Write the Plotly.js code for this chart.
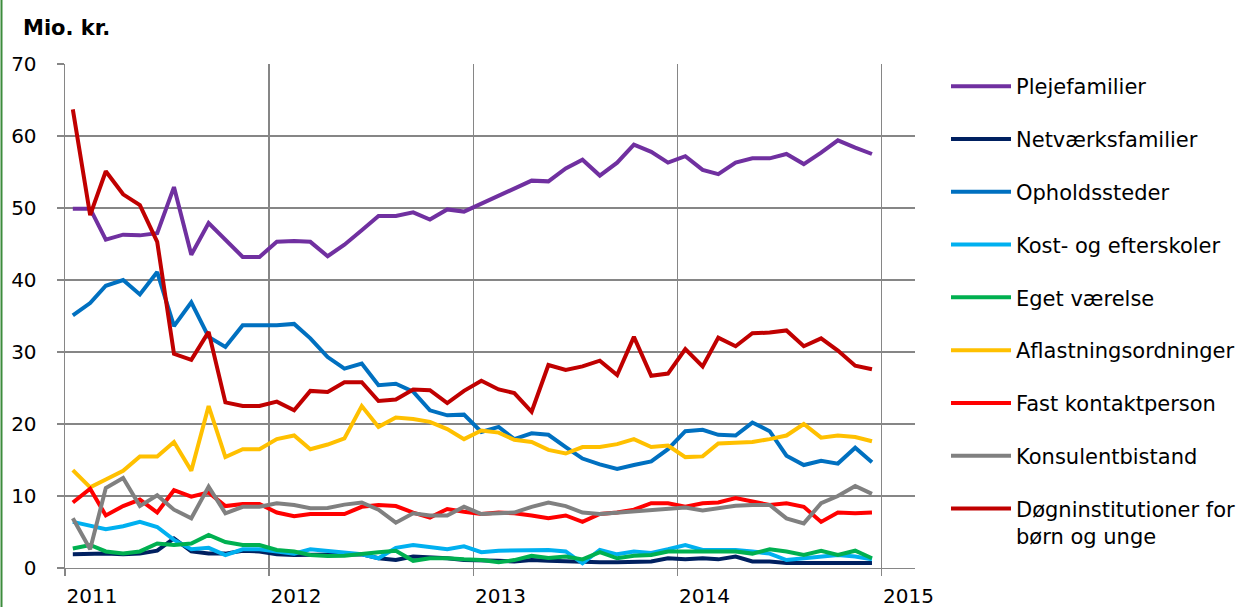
<!DOCTYPE html>
<html>
<head>
<meta charset="utf-8">
<script src="https://cdn.plot.ly/plotly-3.0.1.min.js"></script>
<style>html,body{margin:0;padding:0;background:#fff;}#chart{width:1242px;height:607px;}</style>
</head>
<body>
<div id="chart"></div>
<script>
// Months Jan 2011 – Dec 2014 (mid-month)
const years = [2011, 2012, 2013, 2014];
const monthNums = ['01','02','03','04','05','06','07','08','09','10','11','12'];
const months = [];
years.forEach(y => monthNums.forEach(m => months.push(y + '-' + m + '-15')));

const seriesNames = [
  'Plejefamilier', 'Netværksfamilier', 'Opholdssteder', 'Kost- og efterskoler',
  'Eget værelse', 'Aflastningsordninger', 'Fast kontaktperson', 'Konsulentbistand',
  'Døgninstitutioner for<br>børn og unge'
];
const seriesColors = ['#7030A0','#002060','#0070C0','#00B0F0','#00B050','#FFC000','#FF0000','#808080','#C00000'];

const plejefamilier = [49.9,49.9,45.6,46.3,46.2,46.5,52.9,43.5,47.9,45.6,43.2,43.2,
  45.3,45.4,45.3,43.3,44.9,46.9,48.9,48.9,49.4,48.4,49.8,49.5,
  50.6,51.6,52.6,53.8,53.7,55.5,56.7,54.5,56.3,58.8,57.8,56.3,
  57.2,55.3,54.7,56.3,56.9,56.9,57.5,56.1,57.7,59.4,58.4,57.5];
const netvaerksfamilier = [1.9,2.0,2.0,1.9,2.0,2.4,4.1,2.3,2.0,2.0,2.4,2.3,
  1.9,1.8,1.8,1.8,1.9,1.9,1.35,1.1,1.6,1.5,1.35,1.1,
  1.1,1.0,0.9,1.1,1.0,0.9,0.8,0.8,0.8,0.9,0.9,1.35,
  1.2,1.35,1.2,1.6,0.9,0.9,0.7,0.7,0.7,0.7,0.7,0.7];
const opholdssteder = [35.1,36.8,39.2,40.0,38.0,41.1,33.6,36.9,32.1,30.7,33.7,33.7,
  33.7,33.9,31.9,29.3,27.7,28.4,25.4,25.6,24.5,21.9,21.2,21.3,
  18.9,19.6,17.9,18.7,18.5,16.8,15.2,14.4,13.75,14.3,14.8,16.5,
  19.0,19.2,18.5,18.4,20.2,19.0,15.6,14.3,14.9,14.5,16.7,14.7];
const kostEfterskoler = [6.4,5.8,5.4,5.8,6.4,5.7,3.9,2.6,2.8,1.8,2.6,2.6,
  2.3,2.0,2.6,2.35,2.1,1.9,1.35,2.8,3.2,2.9,2.6,3.0,
  2.2,2.4,2.4,2.4,2.5,2.3,0.65,2.5,1.9,2.3,2.1,2.6,
  3.2,2.5,2.5,2.5,2.3,2.0,1.1,1.35,1.6,1.8,1.6,1.2];
const egetVaerelse = [2.7,3.2,2.3,2.0,2.3,3.4,3.2,3.4,4.6,3.6,3.2,3.2,
  2.5,2.3,1.8,1.65,1.7,2.0,2.2,2.4,1.0,1.35,1.35,1.2,
  1.1,0.8,1.1,1.7,1.4,1.6,1.2,2.2,1.35,1.7,1.8,2.3,
  2.3,2.3,2.2,2.3,2.0,2.6,2.3,1.8,2.4,1.8,2.4,1.35];
const aflastning = [13.6,11.2,12.3,13.5,15.5,15.5,17.5,13.5,22.5,15.4,16.5,16.5,
  17.9,18.4,16.5,17.15,18.0,22.5,19.6,20.9,20.7,20.3,19.3,17.9,
  19.1,18.8,17.8,17.5,16.4,15.9,16.8,16.8,17.2,17.9,16.8,17.0,
  15.4,15.5,17.3,17.4,17.5,17.9,18.4,20.0,18.1,18.4,18.2,17.6];
const fastKontakt = [9.1,11.0,7.3,8.6,9.5,7.7,10.8,9.9,10.5,8.6,8.9,8.9,
  7.7,7.2,7.5,7.5,7.5,8.5,8.75,8.6,7.7,7.0,8.2,7.8,
  7.5,7.7,7.6,7.3,6.9,7.3,6.4,7.5,7.7,8.1,9.0,9.0,
  8.5,9.0,9.1,9.7,9.2,8.75,9.0,8.5,6.4,7.7,7.6,7.7];
const konsulent = [6.9,2.6,11.1,12.5,8.6,10.1,8.1,6.9,11.3,7.6,8.5,8.5,
  9.0,8.75,8.3,8.35,8.8,9.1,8.1,6.3,7.6,7.3,7.3,8.5,
  7.5,7.6,7.7,8.5,9.1,8.6,7.7,7.5,7.7,7.8,8.1,8.2,
  8.4,8.0,8.3,8.65,8.75,8.75,6.9,6.2,9.0,10.0,11.4,10.3];
const doegninst = [63.7,49.0,55.1,51.9,50.4,45.3,29.75,28.9,32.8,23.0,22.5,22.5,
  23.1,21.9,24.6,24.45,25.8,25.8,23.2,23.4,24.8,24.7,22.9,24.6,
  26.0,24.8,24.3,21.7,28.2,27.5,28.0,28.8,26.8,32.1,26.7,27.0,
  30.4,28.0,32.0,30.8,32.6,32.7,33.0,30.8,31.9,30.2,28.1,27.6];

const seriesValues = [plejefamilier, netvaerksfamilier, opholdssteder, kostEfterskoler,
  egetVaerelse, aflastning, fastKontakt, konsulent, doegninst];

const traces = seriesNames.map((name, i) => ({
  type: 'scatter',
  mode: 'lines',
  name: name,
  x: months,
  y: seriesValues[i],
  line: {color: seriesColors[i], width: 4, shape: 'linear'},
  legendgroup: 'g' + i,
  hoverinfo: 'x+y+name'
}));

const gridColor = '#868686';
const layout = {
  width: 1242,
  height: 607,
  paper_bgcolor: '#ffffff',
  plot_bgcolor: '#ffffff',
  margin: {l: 65, r: 327, t: 64, b: 39, pad: 0, autoexpand: false},
  font: {family: 'DejaVu Sans, Verdana, sans-serif', color: '#000000', size: 20},
  showlegend: true,
  xaxis: {
    type: 'date',
    range: ['2011-01-01', '2015-03-02'],
    tick0: '2011-01-01',
    dtick: 'M12',
    tickformat: '%Y',
    showgrid: true,
    gridcolor: gridColor,
    gridwidth: 1.4,
    showline: true,
    linecolor: gridColor,
    linewidth: 1.4,
    zeroline: false,
    ticks: 'outside',
    ticklen: 7,
    tickwidth: 1.4,
    tickcolor: gridColor,
    tickfont: {size: 20, color: '#000000'},
    ticklabelshift: 27,
    ticklabelstandoff: 3,
    automargin: false,
    fixedrange: true
  },
  yaxis: {
    range: [0, 70],
    dtick: 10,
    tick0: 0,
    showgrid: true,
    gridcolor: gridColor,
    gridwidth: 1.4,
    showline: true,
    linecolor: gridColor,
    linewidth: 1.4,
    zeroline: false,
    ticks: 'outside',
    ticklen: 7,
    tickwidth: 1.4,
    tickcolor: gridColor,
    tickfont: {size: 20, color: '#000000'},
    ticklabelstandoff: 16,
    automargin: false,
    fixedrange: true
  },
  legend: {
    x: (946 - 65) / 850,
    xanchor: 'left',
    y: 1 - (66 - 64) / 504,
    yanchor: 'top',
    traceorder: 'grouped',
    tracegroupgap: 22.5,
    valign: 'top',
    itemwidth: 60,
    font: {size: 21, color: '#000000', family: 'DejaVu Sans, Verdana, sans-serif'},
    bgcolor: 'rgba(0,0,0,0)',
    borderwidth: 0
  },
  annotations: [{
    text: '<b>Mio. kr.</b>',
    xref: 'paper', yref: 'paper',
    x: (21 - 65) / 850, xanchor: 'left',
    y: 1 + (64 - 28) / 504, yanchor: 'middle',
    showarrow: false,
    font: {size: 21, color: '#000000', family: 'DejaVu Sans, Verdana, sans-serif'}
  }],
  shapes: [{
    type: 'line', xref: 'paper', yref: 'paper',
    x0: (1.5 - 65) / 850, x1: (1.5 - 65) / 850,
    y0: -39 / 504, y1: 1 + 64 / 504,
    line: {color: '#3c8c3c', width: 2}
  }]
};

Plotly.newPlot('chart', traces, layout, {displayModeBar: false, staticPlot: true});
</script>
</body>
</html>
